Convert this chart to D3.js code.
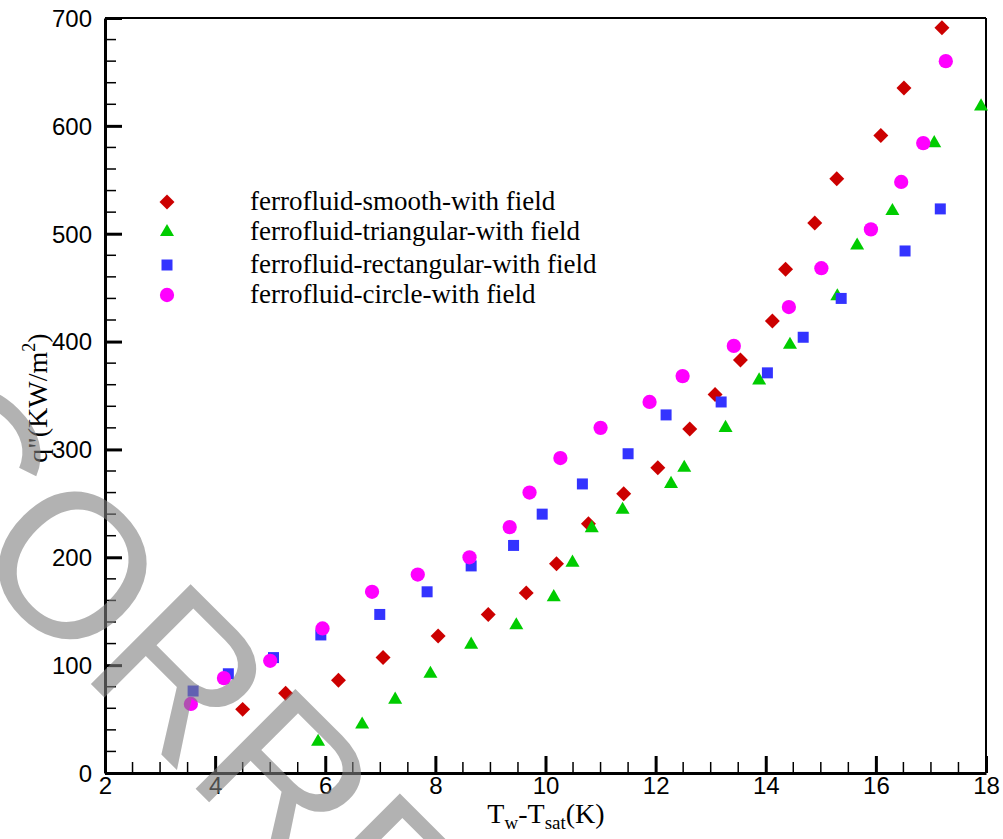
<!DOCTYPE html>
<html>
<head>
<meta charset="utf-8">
<script src="https://cdn.jsdelivr.net/npm/d3@7"></script>
<style>
body { margin: 0; background: #fff; }
.tick text { font-family: "Liberation Sans", Arial, sans-serif; font-size: 24px; fill: #000; }
.legend text { font-family: "Liberation Serif", "Times New Roman", serif; font-size: 27px; }
.title { font-family: "Liberation Serif", "Times New Roman", serif; font-size: 28px; }
</style>
</head>
<body>
<svg id="chart" width="1003" height="839"></svg>
<script>
// values: wall superheat (K) and heat flux (kW/m2)
var smoothX = [4.50, 5.28, 6.24, 7.05, 8.05, 8.96, 9.65, 10.20, 10.78, 11.42, 12.04, 12.62, 13.08, 13.54, 14.12, 14.36, 14.89, 15.29, 16.09, 16.51, 17.20];
var smoothQ = [59, 74, 86, 107, 127, 147, 167, 194, 231, 259, 283, 319, 351, 383, 419, 467, 510, 551, 591, 635, 691];

var triX = [5.87, 6.67, 7.27, 7.91, 8.65, 9.47, 10.15, 10.49, 10.84, 11.40, 12.28, 12.52, 13.27, 13.88, 14.44, 15.30, 15.66, 16.30, 17.06, 17.91];
var triQ = [29, 45, 68, 92, 119, 137, 163, 195, 227, 244, 268, 283, 320, 364, 397, 442, 489, 521, 584, 618];

var rectX = [3.60, 4.24, 5.06, 5.92, 6.99, 7.85, 8.65, 9.42, 9.94, 10.67, 11.50, 12.19, 13.19, 14.03, 14.68, 15.37, 16.53, 17.17];
var rectQ = [76, 92, 107, 128, 147, 168, 192, 211, 240, 268, 296, 332, 344, 371, 404, 440, 484, 523];

var circX = [3.56, 4.16, 5.00, 5.95, 6.85, 7.68, 8.62, 9.35, 9.71, 10.27, 11.00, 11.89, 12.49, 13.42, 14.42, 15.01, 15.91, 16.46, 16.86, 17.27];
var circQ = [64, 88, 104, 134, 168, 184, 200, 228, 260, 292, 320, 344, 368, 396, 432, 468, 504, 548, 584, 660];

var seriesNames = ["ferrofluid-smooth-with field", "ferrofluid-triangular-with field",
                   "ferrofluid-rectangular-with field", "ferrofluid-circle-with field"];
var xTicks = [2, 4, 6, 8, 10, 12, 14, 16, 18];
var yTicks = [0, 100, 200, 300, 400, 500, 600, 700];

var svg = d3.select("#chart");
var padL = 105, padT = 18, width = 881, height = 755;

var x = d3.scaleLinear().domain([2, 18]).range([padL, padL + width]);
var y = d3.scaleLinear().domain([0, 700]).range([padT + height, padT]);

// marker styles
var styles = [
    {color: "#cc0000", type: d3.symbolSquare, size: 112, rot: 45},
    {color: "#00cc00", type: d3.symbolTriangle, size: 85, rot: 0},
    {color: "#3333ff", type: d3.symbolSquare, size: 121, rot: 0},
    {color: "#ff00ff", type: d3.symbolCircle, size: 160, rot: 0}
];
var series = [
    {xs: smoothX, qs: smoothQ},
    {xs: triX, qs: triQ},
    {xs: rectX, qs: rectQ},
    {xs: circX, qs: circQ}
];

// frame (top and right)
svg.append("line").attr("x1", padL).attr("x2", padL + width).attr("y1", padT).attr("y2", padT)
    .attr("stroke", "#000").attr("stroke-width", 2);
svg.append("line").attr("x1", padL + width).attr("x2", padL + width).attr("y1", padT).attr("y2", padT + height)
    .attr("stroke", "#000").attr("stroke-width", 2);

// minor ticks
var xMinor = d3.range(2, 18.01, 0.5).filter(function (d) { return d % 2 !== 0; });
var yMinor = d3.range(0, 700.1, 20).filter(function (d) { return d % 100 !== 0; });
svg.append("g").selectAll("line").data(xMinor).enter().append("line")
    .attr("x1", function (d) { return x(d); }).attr("x2", function (d) { return x(d); })
    .attr("y1", padT + height).attr("y2", padT + height - 11)
    .attr("stroke", "#000").attr("stroke-width", 1.5);
svg.append("g").selectAll("line").data(yMinor).enter().append("line")
    .attr("y1", function (d) { return y(d); }).attr("y2", function (d) { return y(d); })
    .attr("x1", padL).attr("x2", padL + 11)
    .attr("stroke", "#000").attr("stroke-width", 1.5);

// axes with inward major ticks
var xAxis = svg.append("g").attr("transform", "translate(0," + (padT + height) + ")")
    .call(d3.axisBottom(x).tickValues(xTicks).tickSizeInner(-17).tickSizeOuter(0).tickPadding(25));
var yAxis = svg.append("g").attr("transform", "translate(" + padL + ",0)")
    .call(d3.axisLeft(y).tickValues(yTicks).tickSizeInner(-17).tickSizeOuter(0).tickPadding(30));
xAxis.select(".domain").attr("stroke-width", 3);
yAxis.select(".domain").attr("stroke-width", 3);
xAxis.selectAll(".tick line").attr("stroke-width", 3);
yAxis.selectAll(".tick line").attr("stroke-width", 3);
xAxis.selectAll(".tick text").attr("y", 4).attr("dy", "0.71em");
yAxis.selectAll(".tick text").attr("x", -13).attr("dy", "0.35em");

// markers
series.forEach(function (s, i) {
    var st = styles[i];
    var sym = d3.symbol().type(st.type).size(st.size);
    svg.append("g").selectAll("path").data(s.xs).enter().append("path")
        .attr("d", sym)
        .attr("fill", st.color)
        .attr("transform", function (d, j) {
            return "translate(" + x(d) + "," + y(s.qs[j]) + ") rotate(" + st.rot + ")";
        });
});

// legend
var legend = svg.append("g").attr("class", "legend");
var legendY = [202, 232, 265, 295];
seriesNames.forEach(function (name, i) {
    var st = styles[i];
    legend.append("path")
        .attr("d", d3.symbol().type(st.type).size(st.size)())
        .attr("fill", st.color)
        .attr("transform", "translate(167," + legendY[i] + ") rotate(" + st.rot + ")");
    legend.append("text").attr("x", 250).attr("y", legendY[i] + 8).text(name);
});

// axis titles
var xt = svg.append("text").attr("class", "title").attr("x", 546).attr("y", 823).attr("text-anchor", "middle");
xt.append("tspan").text("T");
xt.append("tspan").attr("font-size", "19px").attr("dy", 6).text("w");
xt.append("tspan").attr("dy", -6).text("-T");
xt.append("tspan").attr("font-size", "19px").attr("dy", 6).text("sat");
xt.append("tspan").attr("dy", -6).text("(K)");

var yt = svg.append("text").attr("class", "title").attr("font-size", "29px")
    .attr("transform", "translate(47,398) rotate(-90)").attr("text-anchor", "middle");
yt.append("tspan").text("q\"(KW/m");
yt.append("tspan").attr("font-size", "18px").attr("dy", -12).text("2");
yt.append("tspan").attr("dy", 12).text(")");

// watermark
var wm = svg.append("text")
    .attr("font-family", "Liberation Sans, Arial, sans-serif")
    .attr("font-size", 205)
    .attr("fill", "#808080")
    .attr("opacity", 0.6)
    .text("UNCORRECTED PROOF");
var lead = wm.node().getSubStringLength(0, 4);
var ox = 79 - lead * Math.SQRT1_2, oy = 672 - lead * Math.SQRT1_2;
wm.attr("transform", "translate(" + ox + "," + oy + ") rotate(45)");
</script>
</body>
</html>
